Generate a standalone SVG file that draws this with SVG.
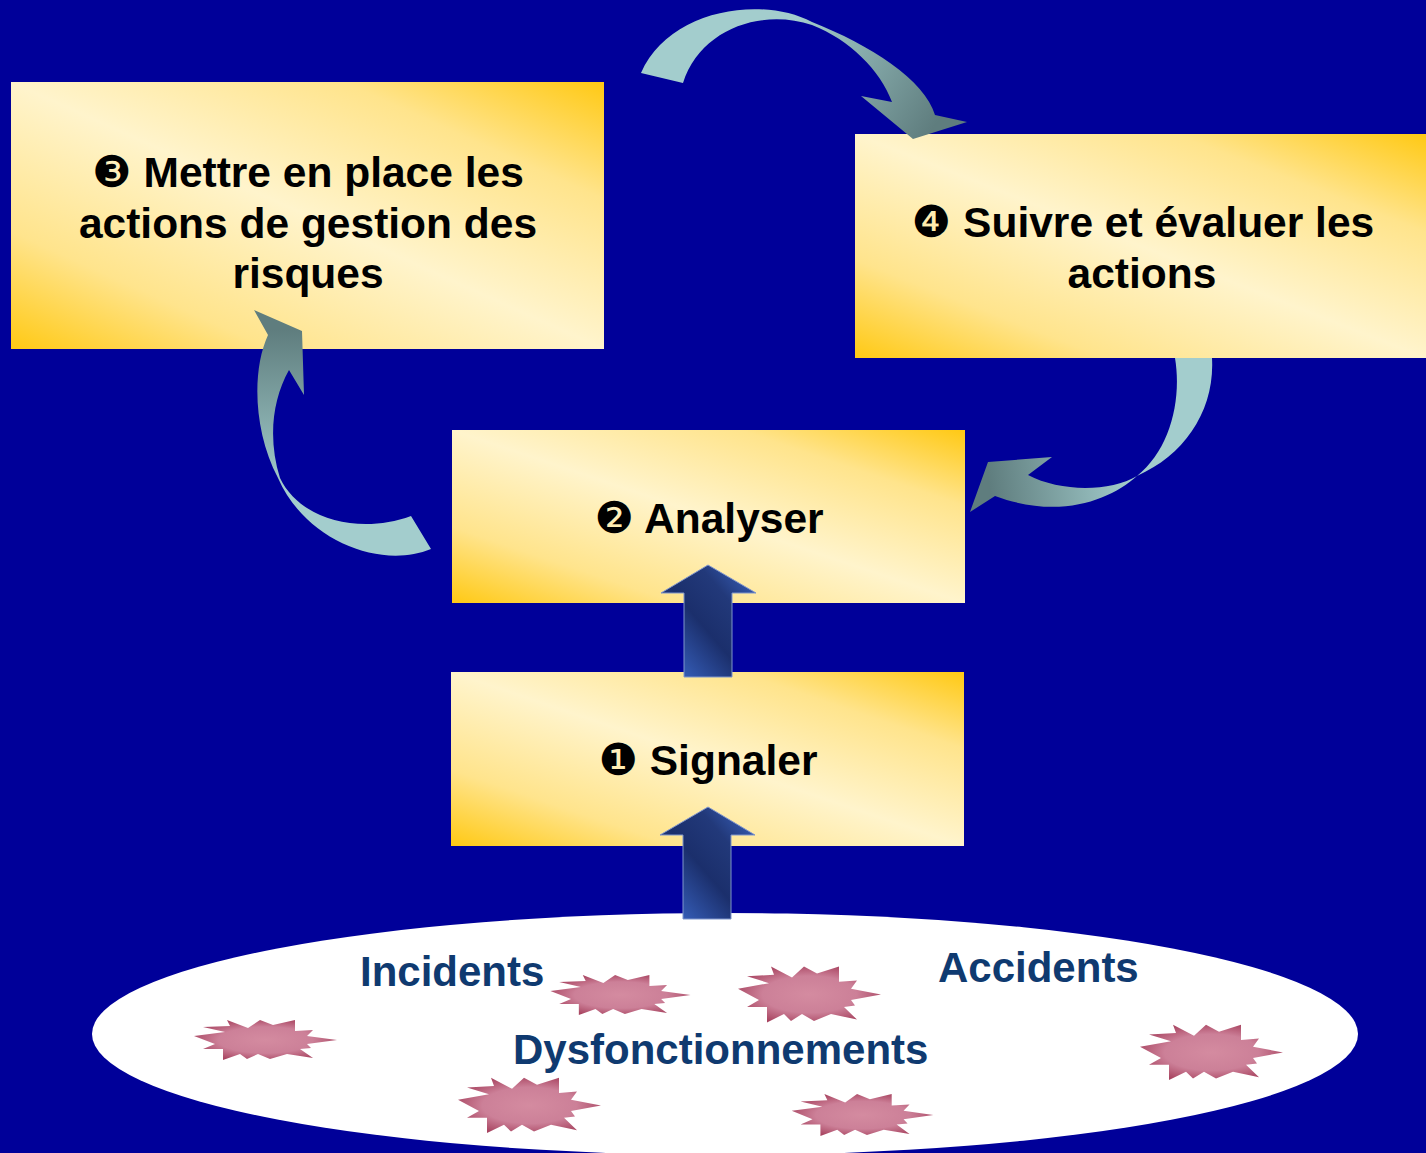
<svg xmlns="http://www.w3.org/2000/svg" width="1426" height="1153" viewBox="0 0 1426 1153">
<defs>
<style>
.box{stroke:none}
.t{font-family:"Liberation Sans",Arial,sans-serif;font-weight:bold;font-size:42.5px;fill:#000;text-anchor:middle}
.d{font-family:"DejaVu Sans",sans-serif;font-weight:normal;font-size:44px}
.lbl{font-family:"Liberation Sans",Arial,sans-serif;font-weight:bold;font-size:42px;fill:#0F3A70}
</style>
<linearGradient id="boxg" x1="0" y1="1" x2="1" y2="0">
<stop offset="0" stop-color="#FFC914"/>
<stop offset="0.22" stop-color="#FFE48C"/>
<stop offset="0.5" stop-color="#FFF4CC"/>
<stop offset="0.78" stop-color="#FFE48C"/>
<stop offset="1" stop-color="#FFC914"/>
</linearGradient>
<linearGradient id="upg" x1="0" y1="1" x2="1" y2="0">
<stop offset="0" stop-color="#3E6CD0"/>
<stop offset="0.45" stop-color="#1B2F6C"/>
<stop offset="0.7" stop-color="#22397A"/>
<stop offset="1" stop-color="#3D68C8"/>
</linearGradient>
<radialGradient id="starg" cx="0.5" cy="0.5" r="0.55">
<stop offset="0" stop-color="#D48BA0"/>
<stop offset="0.6" stop-color="#CC8098"/>
<stop offset="1" stop-color="#A84460"/>
</radialGradient>
<linearGradient id="cg1" gradientUnits="userSpaceOnUse" x1="790" y1="30" x2="935" y2="125">
<stop offset="0" stop-color="#A3CDCD"/>
<stop offset="1" stop-color="#5F7D7E"/>
</linearGradient>
<linearGradient id="cg2" gradientUnits="userSpaceOnUse" x1="1130" y1="470" x2="990" y2="490">
<stop offset="0" stop-color="#A3CDCD"/>
<stop offset="1" stop-color="#5F7D7E"/>
</linearGradient>
<linearGradient id="cg3" gradientUnits="userSpaceOnUse" x1="280" y1="490" x2="280" y2="330">
<stop offset="0" stop-color="#A3CDCD"/>
<stop offset="1" stop-color="#5F7D7E"/>
</linearGradient>
<path id="star" d="M-71,-3 L-40,-7 L-62,-12 L-35,-13 L-38,-19 L-17,-11 L-5,-19 L8,-14 L30,-19 L30,-8 L48,-9 L42,-3 L72,1 L42,5 L46,9 L35,10 L48,19 L22,15 L5,20 L-7,15 L-18,20 L-25,15 L-42,21 L-42,10 L-62,10 L-50,5 Z" fill="url(#starg)"/>
</defs>
<rect width="1426" height="1153" fill="#000099"/>
<g id="field">
<ellipse cx="725" cy="1034" rx="633" ry="121" fill="#FFFFFF"/>
<use href="#star" transform="translate(265,1039)"/>
<use href="#star" transform="translate(620,994) scale(0.98,1)"/>
<use href="#star" transform="translate(809,993) scale(1,1.4)"/>
<use href="#star" transform="translate(529,1104) scale(1,1.38)"/>
<use href="#star" transform="translate(862,1114) scale(0.99,1.05)"/>
<use href="#star" transform="translate(1211,1051) scale(1,1.38)"/>
<text class="lbl" x="360" y="986">Incidents</text>
<text class="lbl" x="938" y="982">Accidents</text>
<text class="lbl" x="513" y="1064">Dysfonctionnements</text>
</g>
<g id="node3">
<rect class="box" x="11" y="82" width="593" height="267" fill="url(#boxg)"/>
<text class="t" x="308" y="187"><tspan class="d">❸</tspan> Mettre en place les</text>
<text class="t" x="308" y="238">actions de gestion des</text>
<text class="t" x="308" y="288">risques</text>
</g>
<g id="node4">
<rect class="box" x="855" y="134" width="571" height="224" fill="url(#boxg)"/>
<text class="t" x="1143" y="237"><tspan class="d">❹</tspan> Suivre et évaluer les</text>
<text class="t" x="1142" y="288">actions</text>
</g>
<g id="node2">
<rect class="box" x="452" y="430" width="513" height="173" fill="url(#boxg)"/>
<text class="t" x="709" y="533"><tspan class="d">❷</tspan> Analyser</text>
</g>
<g id="node1">
<rect class="box" x="451" y="672" width="513" height="174" fill="url(#boxg)"/>
<text class="t" x="708" y="775"><tspan class="d">❶</tspan> Signaler</text>
</g>
<g id="connectors">
<path d="M708,565 L756,593 L732,593 L732,677 L684,677 L684,593 L661,593 Z" fill="url(#upg)" stroke="#7F95CC" stroke-width="1"/>
<path d="M708,807 L755,835 L731,835 L731,919 L683,919 L683,835 L660,835 Z" fill="url(#upg)" stroke="#7F95CC" stroke-width="1"/>
<path d="M641,73 C668,10 760,-5 812,22 C870,45 925,80 935,115 L967,122 L913,139 L861,96 L892,102 C880,70 850,40 812,25 C760,8 700,30 683,83 Z" fill="url(#cg1)"/>
<path d="M1175,358 L1212,358 C1215,410 1185,455 1137,476 C1110,500 1060,520 995,496 L970,512 L988,462 L1052,457 L1028,475 C1060,492 1110,492 1137,476 C1170,450 1182,400 1175,358 Z" fill="url(#cg2)"/>
<path d="M431,549 C380,570 305,540 278,478 C253,430 252,370 268,335 L254,310 L302,331 L304,395 L289,370 C272,400 268,440 280,478 C300,520 360,535 411,516 Z" fill="url(#cg3)"/>
</g>
</svg>
